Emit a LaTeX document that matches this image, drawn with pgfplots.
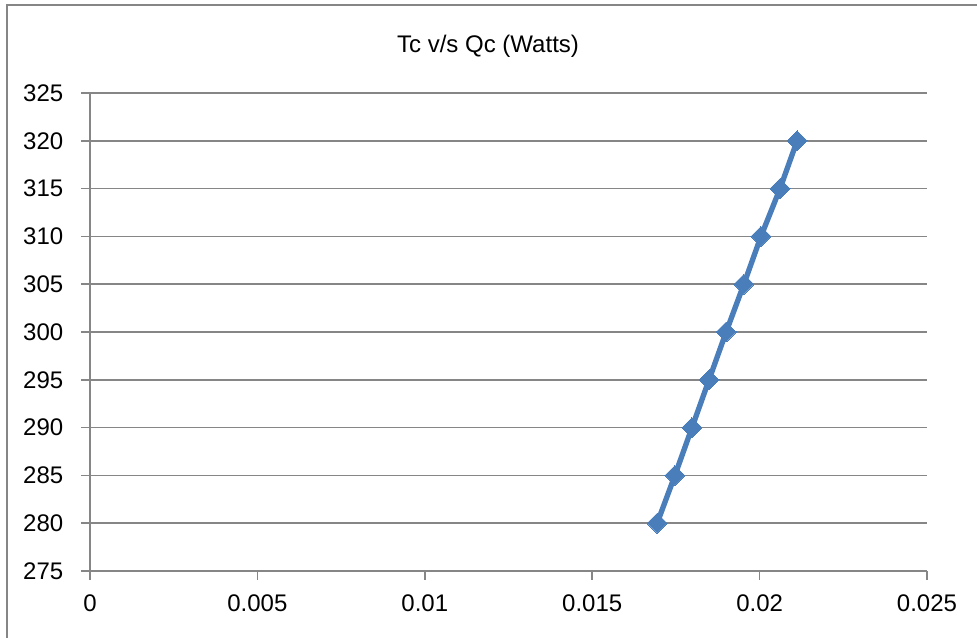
\documentclass[border=0pt]{standalone}
\usepackage{pgfplots}
\pgfplotsset{compat=1.18}
\usepackage{fontspec}
\setmainfont{Liberation Sans}
\definecolor{ser}{RGB}{74,126,187}
\definecolor{grd}{RGB}{134,134,134}
\begin{document}
\begin{tikzpicture}[x=0.75pt,y=0.75pt]
\useasboundingbox (0,0) rectangle (977,638);
\draw[grd,line width=1.2pt] (7,-5) -- (7,633) -- (985,633);
\node[font=\fontsize{18}{20}\selectfont] at (488,592) {Tc v/s Qc (Watts)};
\begin{axis}[
  at={(67.5pt,50.25pt)}, anchor=south west,
  scale only axis, width=627.75pt, height=358.5pt,
  xmin=0, xmax=0.025, ymin=275, ymax=325,
  xtick={0,0.005,0.01,0.015,0.02,0.025},
  xticklabels={0,0.005,0.01,0.015,0.02,0.025},
  scaled x ticks=false,
  ytick={275,280,...,325},
  axis x line*=bottom, axis y line*=left,
  axis line style={grd,line width=1.1pt,-},
  ymajorgrids, grid style={grd,line width=1.1pt},
  tick style={grd,line width=1.1pt},
  major tick length=6.5pt,
  xtick align=outside, ytick align=outside,
  tick label style={font=\fontsize{18}{20}\selectfont},
  /pgf/number format/assume math mode=true,
  xticklabel style={yshift=-8pt},
  yticklabel style={xshift=-10pt},
  clip=false,
]
\addplot[ser, line width=4pt, mark=square*, mark size=5.3pt,
  mark options={rotate=45, fill=ser, draw=ser, line width=0pt}]
coordinates {
(0.01694,280) (0.01747,285) (0.01798,290) (0.01849,295) (0.01900,300)
(0.01953,305) (0.02004,310) (0.02061,315) (0.02112,320)
};
\end{axis}
\end{tikzpicture}
\end{document}
